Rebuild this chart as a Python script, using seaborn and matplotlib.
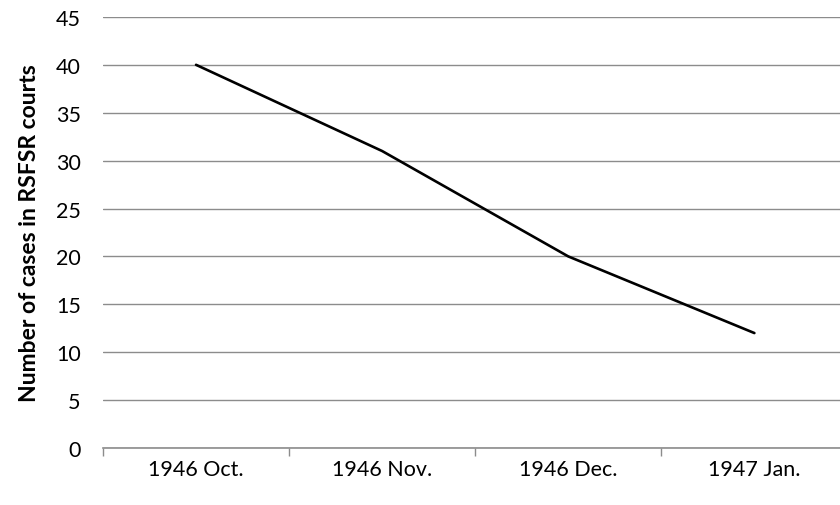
import pandas as pd
import matplotlib.pyplot as plt
import seaborn as sns
from matplotlib.ticker import FixedLocator

# Data
months = ["1946 Oct.", "1946 Nov.", "1946 Dec.", "1947 Jan."]
cases = [40, 31, 20, 12]

df = pd.DataFrame({"Month": months, "Cases": cases})

sns.set_style("white")
plt.rcParams["font.family"] = ["Lato", "DejaVu Sans"]

fig = plt.figure(figsize=(8.4, 5.06), dpi=100)
ax = fig.add_axes([0.1226, 0.1126, 0.8774, 0.852])

sns.lineplot(data=df, x="Month", y="Cases", color="black", linewidth=1.9, ax=ax, sort=False)

ax.set_ylim(0, 45)
ax.set_yticks(range(0, 46, 5))
ax.set_xlim(-0.5, 3.46)
ax.yaxis.grid(True, color="#8c8c8c", linewidth=1.0)
ax.set_axisbelow(True)

for s in ["top", "right", "left"]:
    ax.spines[s].set_visible(False)
ax.spines["bottom"].set_color("#8c8c8c")
ax.spines["bottom"].set_linewidth(1.2)

ax.tick_params(axis="y", length=0, pad=16, labelsize=15.5, labelcolor="black")
ax.tick_params(axis="x", which="major", bottom=True, length=0, pad=8, labelsize=15.5, labelcolor="black")
ax.xaxis.set_minor_locator(FixedLocator([-0.5, 0.5, 1.5, 2.5]))
ax.tick_params(axis="x", which="minor", bottom=True, length=6, width=1, color="#8c8c8c", direction="out")

ax.set_xlabel("")
ax.set_ylabel("Number of cases in RSFSR courts", fontsize=16.5, fontweight="bold", labelpad=11, color="black")

plt.savefig("out.png", dpi=100)
